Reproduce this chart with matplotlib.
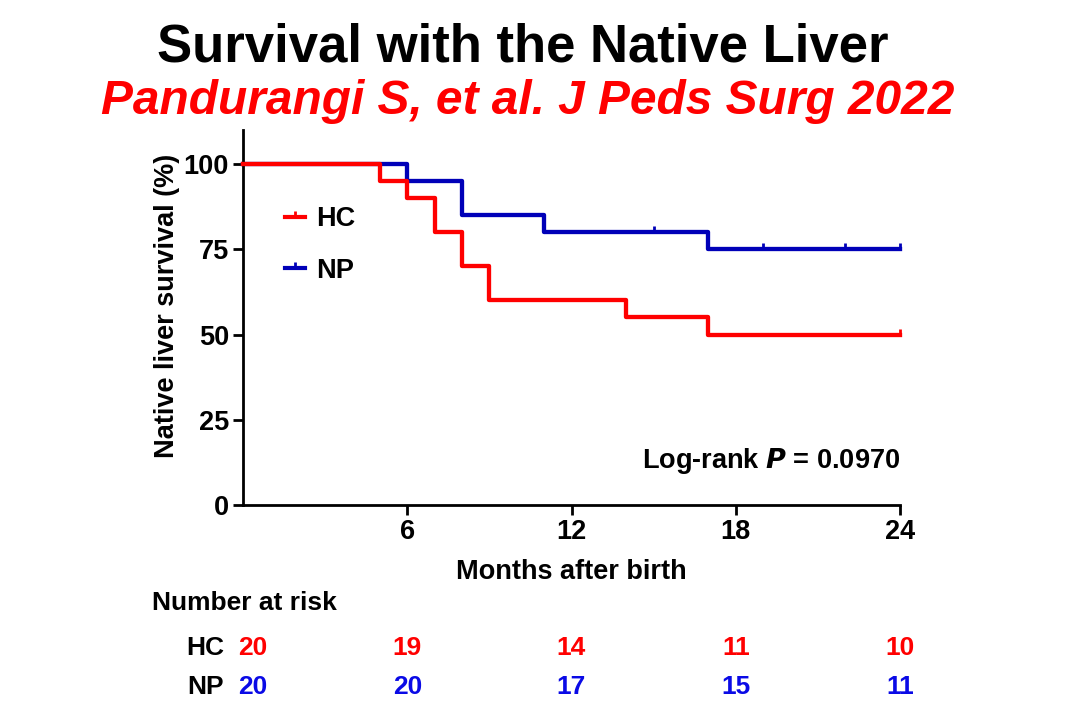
import matplotlib
matplotlib.use("Agg")
import matplotlib.pyplot as plt
from matplotlib.lines import Line2D
from matplotlib.transforms import blended_transform_factory, offset_copy

# ---- data ----
hc_times = [0, 5, 6, 7, 8, 9, 14, 17, 24]
hc_surv = [100, 95, 90, 80, 70, 60, 55, 50, 50]
hc_cens_t = [24]
hc_cens_s = [50]

np_times = [0, 6, 8, 11, 17, 24]
np_surv = [100, 95, 85, 80, 75, 75]
np_cens_t = [15, 19, 22, 24]
np_cens_s = [80, 75, 75, 75]

xticks = [6, 12, 18, 24]
yticks = [0, 25, 50, 75, 100]
risk_times = [0, 6, 12, 18, 24]
risk_hc = [20, 19, 14, 11, 10]
risk_np = [20, 20, 17, 15, 11]

RED = "#FF0000"
BLUE = "#0000B8"
BLUE_T = "#0A0AE6"
FONT = ["Liberation Sans", "DejaVu Sans"]

plt.rcParams["font.family"] = FONT
plt.rcParams["font.weight"] = "bold"

fig = plt.figure(figsize=(10.83, 7.08), dpi=100)
ax = fig.add_axes([243 / 1083, 1 - 505 / 708, (900 - 243) / 1083, (505 - 130) / 708])
ax.set_xlim(0, 24)
ax.set_ylim(0, 110)

tick_marker = [(0, 0), (0, 1)]

ax.plot(hc_times, hc_surv, drawstyle="steps-post", color=RED, lw=3.1, clip_on=False, zorder=3)
ax.plot(hc_cens_t, hc_cens_s, ls="none", marker=tick_marker, ms=9, mew=2, color=RED, clip_on=False, zorder=3)
ax.plot(np_times, np_surv, drawstyle="steps-post", color=BLUE, lw=3.1, clip_on=False, zorder=2)
ax.plot(np_cens_t, np_cens_s, ls="none", marker=tick_marker, ms=9, mew=2, color=BLUE, clip_on=False, zorder=2)

for s in ["top", "right"]:
    ax.spines[s].set_visible(False)
for s in ["left", "bottom"]:
    ax.spines[s].set_linewidth(2)
ax.set_xticks(xticks)
ax.set_yticks(yticks)
ax.tick_params(axis="both", direction="out", width=2, length=7, labelsize=19.5, pad=3)
for lab in ax.get_xticklabels() + ax.get_yticklabels():
    lab.set_fontweight("bold")

ax.set_xlabel("Months after birth", fontsize=19.5, fontweight="bold")
ax.xaxis.set_label_coords(0.5, -0.145)
ax.set_ylabel("Native liver survival (%)", fontsize=19.5, fontweight="bold", va="center")
ax.yaxis.set_label_coords(-0.115, 0.53)

handles = [
    Line2D([], [], color=RED, lw=3, marker=tick_marker, ms=9, mew=2),
    Line2D([], [], color=BLUE, lw=3, marker=tick_marker, ms=9, mew=2),
]
leg = ax.legend(handles, ["HC", "NP"], loc="upper left", bbox_to_anchor=(0.064, 0.796),
                frameon=False, handlelength=0.72, handletextpad=0.42,
                labelspacing=0.93, numpoints=1, borderpad=0, borderaxespad=0,
                prop={"weight": "bold", "size": 19.5})

ax.text(24, 13, "Log-rank $\\bf{\\it{P}}$ = 0.0970", ha="right", va="center",
        fontsize=19.5, fontweight="bold")

fig.text(0.483, 1 - 47 / 708, "Survival with the Native Liver", ha="center", va="center",
         fontsize=38, fontweight="bold", color="black")
fig.text(0.487, 1 - 102 / 708, "Pandurangi S, et al. J Peds Surg 2022", ha="center", va="center",
         fontsize=34.5, fontweight="bold", style="italic", color=RED)

# number at risk
fig.text(152 / 1083, 1 - 603 / 708, "Number at risk", ha="left", va="center",
         fontsize=19, fontweight="bold")
trans = blended_transform_factory(ax.transData, fig.transFigure)
for label, vals, yp, col in [("HC", risk_hc, 648, RED), ("NP", risk_np, 687, BLUE_T)]:
    fig.text(224 / 1083, 1 - yp / 708, label, ha="right", va="center",
             fontsize=19, fontweight="bold")
    for i, (t, v) in enumerate(zip(risk_times, vals)):
        if i == 0:
            tr = offset_copy(trans, fig=fig, x=-5, y=0, units="dots")
            ha = "left"
        else:
            tr = trans
            ha = "center"
        fig.text(t, 1 - yp / 708, str(v), transform=tr, ha=ha, va="center",
                 fontsize=19, fontweight="bold", color=col)

fig.savefig("out.png", dpi=100)
